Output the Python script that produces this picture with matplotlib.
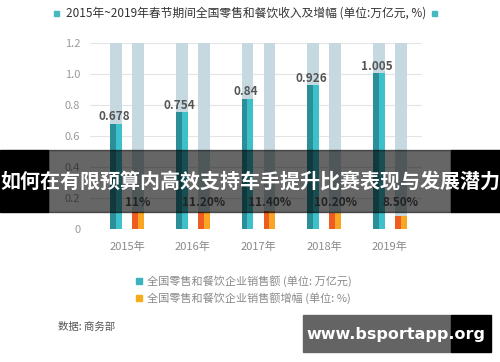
import matplotlib
matplotlib.use("Agg")
import matplotlib.pyplot as plt
import numpy as np
from matplotlib.patches import Rectangle

plt.rcParams['font.family'] = ['Noto Sans CJK SC', 'DejaVu Sans']

years = ["2015年", "2016年", "2017年", "2018年", "2019年"]
sales = [0.678, 0.754, 0.84, 0.926, 1.005]
growth = [11.0, 11.2, 11.4, 10.2, 8.5]
growth_labels = ["11%", "11.20%", "11.40%", "10.20%", "8.50%"]
yticks = [0, 0.2, 0.4, 0.6, 0.8, 1.0, 1.2]
ytick_labels = ["0", "0.2", "0.4", "0.6", "0.8", "1.0", "1.2"]

title = "2015年~2019年春节期间全国零售和餐饮收入及增幅 (单位:万亿元, %)"
legend1 = "全国零售和餐饮企业销售额 (单位: 万亿元)"
legend2 = "全国零售和餐饮企业销售额增幅 (单位: %)"
source = "数据: 商务部"
banner = "如何在有限预算内高效支持车手提升比赛表现与发展潜力"
watermark = "www.bsportapp.org"

W, H = 500, 362
fig = plt.figure(figsize=(W/100, H/100), dpi=100)
fig.patch.set_facecolor("white")

ax = fig.add_axes([90/W, 1-229/H, (422-90)/W, (229-43)/H])
x = np.arange(len(years))
off = 0.168
bw = 0.18
bg = "#c6d9e0"
ymax = 1.2

ax.bar(x - off, [ymax]*len(x), width=bw, color=bg, zorder=1)
ax.bar(x + off, [ymax]*len(x), width=bw, color=bg, zorder=1)
# teal bars (two tones)
ax.bar(x - off - bw/4, sales, width=bw/2, color="#2a8f99", zorder=2)
ax.bar(x - off + bw/4, sales, width=bw/2, color="#3ec0ca", zorder=2)
g = np.array(growth) / 100.0
ax.bar(x + off - bw/4, g, width=bw/2, color="#ee5c22", zorder=2)
ax.bar(x + off + bw/4, g, width=bw/2, color="#f8a623", zorder=2)

for xi, v in zip(x, sales):
    ax.text(xi - off - 0.03, v + 0.045, f"{v:g}", ha="center", va="center",
            fontsize=8.5, color="#555555", fontweight="bold", zorder=5)
for xi, lab in zip(x, growth_labels):
    ax.text(xi + off, 0.174, lab, ha="center", va="center",
            fontsize=8.5, color="#555555", fontweight="bold", zorder=5)

ax.set_xlim(-0.565, 4.49)
ax.set_ylim(0, ymax)
ax.set_yticks(yticks)
ax.set_yticklabels(ytick_labels, fontsize=8, color="#9a9a9a")
ax.set_xticks(x)
ax.set_xticklabels(years, fontsize=8, color="#8a8a8a")
ax.tick_params(axis="both", length=0)
ax.tick_params(axis="y", pad=7)
ax.tick_params(axis="x", pad=9)
for s in ax.spines.values():
    s.set_visible(False)
ax.grid(axis="y", color="#e4e4e4", linewidth=0.8, zorder=0)
ax.set_axisbelow(True)

# title with teal squares
fig.text(246/W, 1-13/H, title, ha="center", va="center", fontsize=8.5, color="#333333")
fig.patches.append(Rectangle((54/W, 1-16/H), 5/W, 5/H, transform=fig.transFigure,
                             color="#45b8c0", figure=fig))
fig.patches.append(Rectangle((432/W, 1-16/H), 5/W, 5/H, transform=fig.transFigure,
                             color="#45b8c0", figure=fig))

# legend
fig.patches.append(Rectangle((136/W, 1-284/H), 6/W, 6/H, transform=fig.transFigure,
                             color="#3ab3c0", figure=fig))
fig.patches.append(Rectangle((136/W, 1-301/H), 6/W, 6/H, transform=fig.transFigure,
                             color="#f5ac1c", figure=fig))
fig.text(147/W, 1-281/H, legend1, ha="left", va="center", fontsize=8, color="#8a8a8a")
fig.text(147/W, 1-298/H, legend2, ha="left", va="center", fontsize=8, color="#8a8a8a")

fig.text(58/W, 1-327/H, source, ha="left", va="center", fontsize=7.5, color="#555555")

# banner overlay
fig.patches.append(Rectangle((0, 1-212/H), 48/W, 62/H, transform=fig.transFigure,
                             color="black", figure=fig, zorder=10))
fig.patches.append(Rectangle((48/W, 1-212/H), (451-48)/W, 62/H, transform=fig.transFigure,
                             color="black", alpha=0.6, figure=fig, zorder=10))
fig.patches.append(Rectangle((451/W, 1-212/H), 49/W, 62/H, transform=fig.transFigure,
                             color="black", figure=fig, zorder=10))
fig.text(250/W, 1-181/H, banner, ha="center", va="center", fontsize=14.4,
         fontweight="bold", color="white", zorder=11)

# watermark
fig.patches.append(Rectangle((303/W, 1-352/H), (451-303)/W, 37/H, transform=fig.transFigure,
                             color="#646464", figure=fig, zorder=10))
fig.patches.append(Rectangle((451/W, 1-352/H), 40/W, 37/H, transform=fig.transFigure,
                             color="black", figure=fig, zorder=10))
fig.text(396/W, 1-334/H, watermark, ha="center", va="center", fontsize=11.5,
         fontweight="bold", color="white", zorder=11, family="DejaVu Sans")

fig.savefig("out.png", dpi=100, facecolor="white")
